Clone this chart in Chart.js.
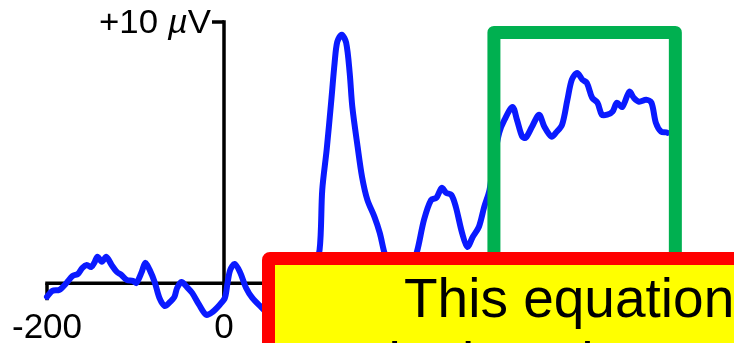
<!DOCTYPE html>
<html>
<head>
<meta charset="utf-8">
<script src="https://cdn.jsdelivr.net/npm/chart.js@4/dist/chart.umd.min.js"></script>
<style>
  html, body { margin: 0; padding: 0; background: #ffffff; }
  #wrap { position: relative; width: 734px; height: 343px; overflow: hidden; }
  #erp { position: absolute; left: 0; top: 0; }
  .callout {
    position: absolute; left: 262px; top: 252px; width: 620px; height: 200px;
    box-sizing: border-box; border: 13px solid #ff0000; border-radius: 8px 0 0 0;
    background: #ffff00;
  }
  .callout-line {
    position: absolute; white-space: nowrap; color: #000;
    font-family: "Liberation Sans", Arial, Helvetica, sans-serif;
    font-size: 55px; line-height: 55px;
  }
</style>
</head>
<body>
<div id="wrap">
  <canvas id="erp" width="734" height="343"></canvas>
  <div class="callout"></div>
  <div class="callout-line" style="left:404px; top:271px;">This equation is</div>
  <div class="callout-line" style="left:358px; top:335px;">I look at the mean amplitude</div>
</div>
<script>
// ERP waveform: time (ms) and amplitude (µV)
const times = [-200,-194,-186,-178,-171,-165,-160,-155,-150,-146,-143,-138,-133,-127,-121,-116,-110,-103,-99,-93,-89,-84,-78,-73,-67,-62,-56,-53,-48,-42,-36,-28,-20,-13,-5,1,4,7,12,18,25,32,42,57,74,91,100,108,111,116,121,125,128,133,138,142,145,151,156,162,170,176,181,189,198,209,218,226,234,240,246,251,257,262,269,275,281,288,294,300,305,311,317,326,331,337,341,348,356,362,370,375,382,388,393,399,405,410,416,422,427,433,439,444,450,458,463,469,477,483,488,494,501,509,516,523,533,539,548,557,563,568,575,585];
const amplitudes = [-0.52,-0.29,-0.25,0.01,0.28,0.36,0.59,0.70,0.62,0.82,1.01,0.82,1.01,0.70,0.43,0.32,0.13,0.09,0.01,0.43,0.78,0.51,0.01,-0.56,-0.87,-0.75,-0.52,-0.18,0.05,-0.14,-0.37,-0.83,-1.21,-1.10,-0.83,-0.56,0.01,0.51,0.74,0.43,-0.18,-0.56,-0.91,-1.41,-1.60,-0.64,0.32,1.28,3.57,5.11,6.91,8.44,9.24,9.51,9.21,8.06,6.75,5.22,4.07,3.19,2.54,1.93,1.20,0.32,-0.07,0.32,1.20,2.43,3.19,3.27,3.65,3.46,3.38,2.92,1.93,1.39,1.77,2.16,2.92,3.57,4.72,5.76,6.26,6.75,6.26,5.61,5.57,5.99,6.45,5.99,5.61,5.76,6.07,7.02,7.79,8.05,7.79,7.67,7.10,6.91,6.45,6.45,6.57,6.91,6.75,7.33,7.10,6.95,7.02,6.91,6.14,5.80,5.76,5.49,4.72,3.84,2.62,2.43,1.74,1.97,1.77,1.28,0.70,0.20];

// Axis ticks
const xTicks = [-200, 0];
const yTicks = [10];
const yUnit = 'µV';

// Measurement window (ms) and the top of its frame (µV)
const measureWindow = [305, 510];
const windowTop = 9.6;

const FONT = '"Liberation Sans", Arial, Helvetica, sans-serif';

// Hand-drawn style axes: baseline at 0 µV, vertical axis at 0 ms
const erpAxes = {
  id: 'erpAxes',
  beforeDatasetsDraw(chart) {
    const { ctx, scales: { x, y } } = chart;
    const x0 = x.getPixelForValue(0);
    const y0 = y.getPixelForValue(0);
    const tickLen = 17;
    ctx.save();
    ctx.strokeStyle = '#000';
    ctx.lineWidth = 3.5;
    ctx.lineCap = 'butt';
    ctx.beginPath();
    ctx.moveTo(x.getPixelForValue(xTicks[0]) - 1.75, y0);
    ctx.lineTo(chart.width + 10, y0);
    ctx.stroke();
    // x ticks hang below the baseline
    xTicks.forEach(t => {
      const px = x.getPixelForValue(t);
      ctx.beginPath();
      ctx.moveTo(px, y0);
      ctx.lineTo(px, y0 + tickLen);
      ctx.stroke();
    });
    // vertical axis
    const yTop = y.getPixelForValue(yTicks[yTicks.length - 1]);
    ctx.beginPath();
    ctx.moveTo(x0, yTop - 1.75);
    ctx.lineTo(x0, y0 + tickLen);
    ctx.stroke();
    yTicks.forEach(v => {
      const py = y.getPixelForValue(v);
      ctx.beginPath();
      ctx.moveTo(x0 - 12, py);
      ctx.lineTo(x0, py);
      ctx.stroke();
    });

    ctx.fillStyle = '#000';
    ctx.textBaseline = 'alphabetic';
    ctx.textAlign = 'center';
    ctx.font = '35px ' + FONT;
    xTicks.forEach(t => {
      ctx.fillText(String(t), x.getPixelForValue(t), y0 + 55);
    });

    // y tick label: "+10 µV" with an italic µ
    yTicks.forEach(v => {
      const py = y.getPixelForValue(v);
      const parts = [
        { text: '+' + v + ' ', font: '33px ' + FONT },
        { text: yUnit.charAt(0), font: 'italic 33px ' + FONT },
        { text: yUnit.slice(1), font: '33px ' + FONT }
      ];
      let total = 0;
      parts.forEach(p => { ctx.font = p.font; p.w = ctx.measureText(p.text).width; total += p.w; });
      const targetW = 112;
      const sx = targetW / total;
      ctx.save();
      ctx.translate(x0 - 13 - targetW, py + 11);
      ctx.scale(sx, 1);
      ctx.textAlign = 'left';
      let cx = 0;
      parts.forEach(p => { ctx.font = p.font; ctx.fillText(p.text, cx, 0); cx += p.w; });
      ctx.restore();
    });
    ctx.restore();
  }
};

// Green frame around the measurement window
const windowFrame = {
  id: 'windowFrame',
  afterDatasetsDraw(chart) {
    const { ctx, scales: { x, y } } = chart;
    const l = x.getPixelForValue(measureWindow[0]);
    const r = x.getPixelForValue(measureWindow[1]);
    const t = y.getPixelForValue(windowTop);
    const b = y.getPixelForValue(-3);
    ctx.save();
    ctx.strokeStyle = '#00b050';
    ctx.lineWidth = 13;
    ctx.lineJoin = 'round';
    ctx.beginPath();
    ctx.moveTo(l, b);
    ctx.lineTo(l, t);
    ctx.lineTo(r, t);
    ctx.lineTo(r, b);
    ctx.stroke();
    ctx.restore();
  }
};

new Chart(document.getElementById('erp'), {
  type: 'line',
  data: {
    datasets: [{
      data: times.map((t, i) => ({ x: t, y: amplitudes[i] })),
      borderColor: '#0a1aff',
      borderWidth: 6,
      borderCapStyle: 'round',
      borderJoinStyle: 'round',
      pointRadius: 0,
      tension: 0.3,
      fill: false,
      clip: false
    }]
  },
  options: {
    responsive: false,
    animation: false,
    events: [],
    layout: { padding: { left: 47, top: 22, right: 67.5, bottom: 7.5 } },
    plugins: { legend: { display: false }, tooltip: { enabled: false } },
    scales: {
      x: { type: 'linear', min: -200, max: 500, display: false },
      y: { type: 'linear', min: -2, max: 10, display: false }
    }
  },
  plugins: [erpAxes, windowFrame]
});
</script>
</body>
</html>
